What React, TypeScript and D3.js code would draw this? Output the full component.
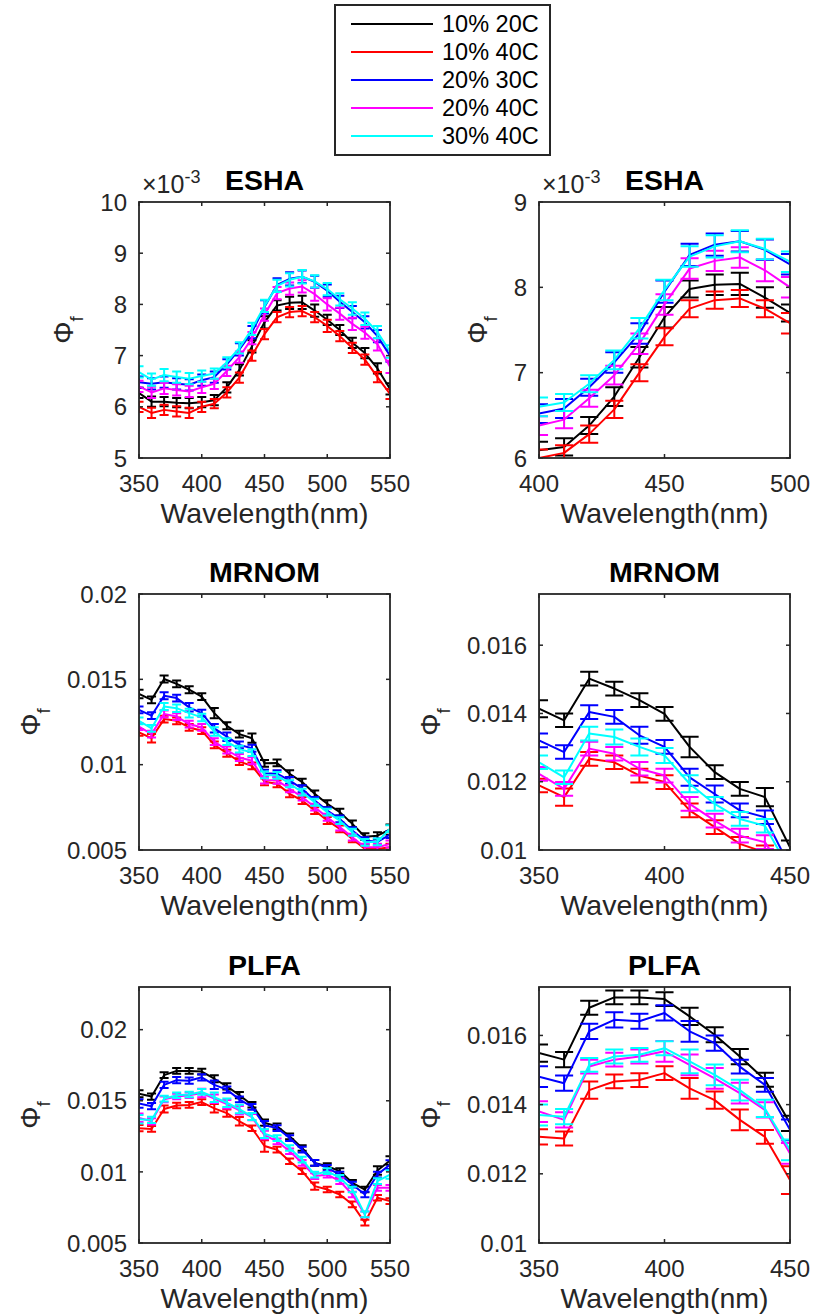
import React from 'react';
import * as d3 from 'd3';

const wavelengths = [350, 360, 370, 380, 390, 400, 410, 420, 430, 440, 450, 460, 470, 480, 490, 500, 510, 520, 530, 540, 550];
const seriesNames = ['10% 20C', '10% 40C', '20% 30C', '20% 40C', '30% 40C'];
const seriesColors = ['#000000', '#ff0000', '#0000ff', '#ff00ff', '#00ffff'];

// ESHA values in units of 1e-3
const eshaValues = [
  [6.27, 6.10, 6.10, 6.08, 6.07, 6.09, 6.13, 6.38, 6.72, 7.18, 7.65, 7.98, 8.03, 8.04, 7.88, 7.70, 7.50, 7.25, 7.05, 6.75, 6.35],
  [6.00, 5.88, 5.94, 5.91, 5.88, 6.00, 6.06, 6.28, 6.57, 7.00, 7.42, 7.75, 7.85, 7.87, 7.75, 7.58, 7.38, 7.15, 6.92, 6.58, 6.25],
  [6.48, 6.45, 6.48, 6.45, 6.43, 6.52, 6.58, 6.83, 7.12, 7.46, 7.95, 8.38, 8.50, 8.54, 8.44, 8.27, 8.05, 7.85, 7.65, 7.38, 7.00],
  [6.40, 6.28, 6.36, 6.33, 6.30, 6.38, 6.45, 6.70, 6.97, 7.34, 7.80, 8.22, 8.31, 8.35, 8.20, 8.00, 7.82, 7.62, 7.45, 7.22, 6.78],
  [6.68, 6.53, 6.62, 6.58, 6.55, 6.60, 6.65, 6.87, 7.15, 7.52, 7.97, 8.36, 8.48, 8.54, 8.45, 8.30, 8.10, 7.92, 7.72, 7.46, 7.08],
];
const eshaErrors = [
  [0.10, 0.10, 0.09, 0.09, 0.10, 0.10, 0.10, 0.10, 0.11, 0.12, 0.12, 0.10, 0.12, 0.13, 0.12, 0.10, 0.10, 0.10, 0.10, 0.10, 0.11],
  [0.10, 0.10, 0.10, 0.10, 0.10, 0.10, 0.09, 0.10, 0.10, 0.10, 0.10, 0.10, 0.10, 0.10, 0.10, 0.12, 0.10, 0.10, 0.10, 0.10, 0.10],
  [0.11, 0.11, 0.11, 0.11, 0.11, 0.11, 0.11, 0.10, 0.12, 0.12, 0.13, 0.13, 0.13, 0.12, 0.12, 0.12, 0.12, 0.12, 0.12, 0.12, 0.12],
  [0.11, 0.11, 0.11, 0.11, 0.11, 0.11, 0.10, 0.10, 0.11, 0.12, 0.12, 0.12, 0.12, 0.12, 0.13, 0.12, 0.12, 0.12, 0.12, 0.12, 0.12],
  [0.11, 0.12, 0.12, 0.11, 0.11, 0.11, 0.10, 0.10, 0.11, 0.12, 0.12, 0.12, 0.13, 0.13, 0.12, 0.12, 0.12, 0.12, 0.12, 0.12, 0.12],
];

const mrnomValues = [
  [0.01414, 0.0138, 0.01502, 0.01473, 0.01439, 0.01399, 0.01302, 0.01228, 0.01179, 0.01155, 0.01008, 0.0101, 0.00947, 0.00898, 0.00829, 0.00771, 0.00722, 0.00653, 0.00578, 0.00584, 0.0062],
  [0.01189, 0.01155, 0.01267, 0.01257, 0.01218, 0.01199, 0.01116, 0.01067, 0.01018, 0.00993, 0.009, 0.00888, 0.00829, 0.0079, 0.00731, 0.00673, 0.00624, 0.00565, 0.00506, 0.00506, 0.00516],
  [0.01321, 0.01287, 0.01404, 0.0139, 0.01336, 0.01302, 0.01213, 0.01164, 0.01116, 0.01096, 0.0095, 0.00947, 0.00908, 0.00859, 0.0079, 0.00731, 0.00682, 0.00614, 0.00555, 0.00548, 0.0059],
  [0.01223, 0.01179, 0.01297, 0.01282, 0.01238, 0.01218, 0.01135, 0.01086, 0.01042, 0.01023, 0.0091, 0.00908, 0.00859, 0.0081, 0.00751, 0.00692, 0.00634, 0.00575, 0.00516, 0.00516, 0.00535],
  [0.01257, 0.01213, 0.01341, 0.01331, 0.01302, 0.01277, 0.01194, 0.01135, 0.01091, 0.01071, 0.0094, 0.00937, 0.00888, 0.00839, 0.0078, 0.00722, 0.00672, 0.00604, 0.00545, 0.00548, 0.00625],
];
const mrnomErrors = [
  [0.00025, 0.0002, 0.0002, 0.0002, 0.0002, 0.0002, 0.0003, 0.0002, 0.0002, 0.00027, 0.0002, 0.0002, 0.0002, 0.0002, 0.0002, 0.0002, 0.0002, 0.0002, 0.0002, 0.0002, 0.0003],
  [0.0002, 0.00025, 0.0002, 0.0002, 0.0002, 0.0002, 0.0002, 0.0002, 0.0002, 0.0002, 0.0002, 0.0002, 0.0002, 0.0002, 0.0002, 0.0002, 0.0002, 0.0002, 0.0002, 0.0002, 0.0002],
  [0.0002, 0.0002, 0.0002, 0.0002, 0.00025, 0.0002, 0.00025, 0.00025, 0.0002, 0.0002, 0.0002, 0.0002, 0.0002, 0.0002, 0.0002, 0.0002, 0.0002, 0.0002, 0.0002, 0.0002, 0.0002],
  [0.0002, 0.0002, 0.0002, 0.0002, 0.0002, 0.0002, 0.0002, 0.0002, 0.0002, 0.0002, 0.0002, 0.0002, 0.0002, 0.0002, 0.0002, 0.0002, 0.0002, 0.0002, 0.0002, 0.0002, 0.0002],
  [0.0002, 0.0002, 0.0002, 0.00022, 0.00025, 0.00022, 0.00025, 0.0002, 0.0002, 0.0002, 0.0002, 0.0002, 0.0002, 0.0002, 0.0002, 0.0002, 0.0002, 0.0002, 0.0002, 0.0002, 0.0002],
];

const plfaValues = [
  [0.01549, 0.0153, 0.0168, 0.0171, 0.0171, 0.01705, 0.01655, 0.01602, 0.01539, 0.01472, 0.01346, 0.0132, 0.0125, 0.01168, 0.01063, 0.0104, 0.01005, 0.00923, 0.00876, 0.0101, 0.0108],
  [0.01307, 0.01302, 0.01442, 0.01467, 0.01471, 0.01491, 0.01447, 0.01413, 0.01356, 0.01307, 0.01182, 0.01156, 0.01075, 0.01005, 0.009, 0.00876, 0.00841, 0.00771, 0.00643, 0.00818, 0.00795],
  [0.01481, 0.01462, 0.01612, 0.01645, 0.01641, 0.01665, 0.01612, 0.01578, 0.0151, 0.01457, 0.01327, 0.01308, 0.01238, 0.01156, 0.01063, 0.01028, 0.00981, 0.00911, 0.00841, 0.00981, 0.01051],
  [0.0138, 0.01356, 0.0151, 0.0153, 0.01539, 0.01554, 0.01515, 0.01476, 0.01433, 0.01385, 0.01259, 0.01215, 0.01145, 0.01063, 0.0097, 0.00981, 0.00935, 0.00841, 0.00701, 0.00888, 0.00888],
  [0.0137, 0.01365, 0.01515, 0.01539, 0.01544, 0.01563, 0.01525, 0.01486, 0.01442, 0.01389, 0.01269, 0.01238, 0.01168, 0.01086, 0.00981, 0.01005, 0.00958, 0.00876, 0.00701, 0.00935, 0.00981],
];
const plfaErrors = [
  [0.00025, 0.00022, 0.0002, 0.0002, 0.0002, 0.0002, 0.00025, 0.00022, 0.00022, 0.0002, 0.00022, 0.0002, 0.0002, 0.0002, 0.0002, 0.0002, 0.0002, 0.0002, 0.0002, 0.0003, 0.0003],
  [0.00022, 0.0002, 0.00025, 0.0002, 0.0002, 0.0002, 0.0003, 0.00025, 0.0003, 0.0002, 0.0004, 0.0002, 0.0002, 0.0002, 0.00025, 0.0002, 0.0002, 0.0002, 0.0002, 0.0002, 0.0002],
  [0.0003, 0.00022, 0.00022, 0.00022, 0.00022, 0.00022, 0.0003, 0.00022, 0.0002, 0.0002, 0.0003, 0.0002, 0.0002, 0.0002, 0.0002, 0.0002, 0.0002, 0.0002, 0.0002, 0.0002, 0.0003],
  [0.0003, 0.00022, 0.0002, 0.0002, 0.0002, 0.0003, 0.0003, 0.0003, 0.0003, 0.00022, 0.0003, 0.0002, 0.0002, 0.0002, 0.0002, 0.0002, 0.0002, 0.0002, 0.0002, 0.0002, 0.0002],
  [0.0003, 0.00022, 0.0002, 0.0002, 0.0002, 0.0002, 0.00034, 0.0003, 0.0003, 0.00025, 0.0003, 0.0002, 0.0002, 0.0002, 0.0002, 0.0002, 0.0002, 0.0002, 0.0002, 0.0002, 0.0003],
];

const FONT = '"Liberation Sans", Arial, Helvetica, sans-serif';
const AXIS = '#262626';
const CAP = 3.6; // cap half-width in nm

type PanelDef = {
  id: string;
  title: string;
  values: number[][];
  errors: number[][];
  xDomain: [number, number];
  xTicks: number[];
  yDomain: [number, number];
  yTicks: number[];
  exponent: boolean;
  left: number;
  top: number;
};

const W = 251;
const H = 256;

const panels: PanelDef[] = [
  { id: 'p1', title: 'ESHA', values: eshaValues, errors: eshaErrors, xDomain: [350, 550], xTicks: [350, 400, 450, 500, 550], yDomain: [5, 10], yTicks: [5, 6, 7, 8, 9, 10], exponent: true, left: 139, top: 202 },
  { id: 'p2', title: 'ESHA', values: eshaValues, errors: eshaErrors, xDomain: [400, 500], xTicks: [400, 450, 500], yDomain: [6, 9], yTicks: [6, 7, 8, 9], exponent: true, left: 539, top: 202 },
  { id: 'p3', title: 'MRNOM', values: mrnomValues, errors: mrnomErrors, xDomain: [350, 550], xTicks: [350, 400, 450, 500, 550], yDomain: [0.005, 0.02], yTicks: [0.005, 0.01, 0.015, 0.02], exponent: false, left: 139, top: 594 },
  { id: 'p4', title: 'MRNOM', values: mrnomValues, errors: mrnomErrors, xDomain: [350, 450], xTicks: [350, 400, 450], yDomain: [0.01, 0.0175], yTicks: [0.01, 0.012, 0.014, 0.016], exponent: false, left: 539, top: 594 },
  { id: 'p5', title: 'PLFA', values: plfaValues, errors: plfaErrors, xDomain: [350, 550], xTicks: [350, 400, 450, 500, 550], yDomain: [0.005, 0.023], yTicks: [0.005, 0.01, 0.015, 0.02], exponent: false, left: 139, top: 987 },
  { id: 'p6', title: 'PLFA', values: plfaValues, errors: plfaErrors, xDomain: [350, 450], xTicks: [350, 400, 450], yDomain: [0.01, 0.0174], yTicks: [0.01, 0.012, 0.014, 0.016], exponent: false, left: 539, top: 987 },
];

function labelWidth(s: string, size: number) {
  let w = 0;
  for (const ch of s) w += ch === '.' ? 0.278 : 0.556;
  return w * size;
}

function Panel({ p }: { p: PanelDef }) {
  const x = d3.scaleLinear().domain(p.xDomain).range([p.left, p.left + W]);
  const y = d3.scaleLinear().domain(p.yDomain).range([p.top + H, p.top]);
  const line = d3.line<number>().x((_, i) => x(wavelengths[i])).y((v) => y(v));
  const tickFont = 24;
  const tickLen = 4;
  const bottom = p.top + H;
  const right = p.left + W;
  const maxLab = Math.max(...p.yTicks.map((t) => labelWidth(String(t), tickFont)));
  const ylabX = p.left - 12 - maxLab - 27;
  const cy = p.top + H / 2;
  const cx = p.left + W / 2;

  return (
    <g>
      <defs>
        <clipPath id={`clip-${p.id}`}>
          <rect x={p.left} y={p.top} width={W} height={H} />
        </clipPath>
      </defs>
      <g clipPath={`url(#clip-${p.id})`}>
        {p.values.map((vals, si) => {
          const errs = p.errors[si];
          let bars = '';
          vals.forEach((v, i) => {
            const w = wavelengths[i];
            const e = errs[i];
            const xx = x(w);
            const y0 = y(v - e);
            const y1 = y(v + e);
            bars += `M${xx},${y0}V${y1}`;
            bars += `M${x(w - CAP)},${y0}H${x(w + CAP)}`;
            bars += `M${x(w - CAP)},${y1}H${x(w + CAP)}`;
          });
          return (
            <g key={si}>
              <path d={bars} fill="none" stroke={seriesColors[si]} strokeWidth={2} />
              <path d={line(vals) || ''} fill="none" stroke={seriesColors[si]} strokeWidth={2} strokeLinejoin="round" />
            </g>
          );
        })}
      </g>
      {p.xTicks.map((t) => (
        <g key={`xt${t}`}>
          <line x1={x(t)} x2={x(t)} y1={bottom} y2={bottom - tickLen} stroke={AXIS} strokeWidth={1.5} />
          <line x1={x(t)} x2={x(t)} y1={p.top} y2={p.top + tickLen} stroke={AXIS} strokeWidth={1.5} />
          <text x={x(t)} y={bottom + 34} textAnchor="middle" fontSize={tickFont} fill={AXIS} fontFamily={FONT}>
            {String(t)}
          </text>
        </g>
      ))}
      {p.yTicks.map((t) => (
        <g key={`yt${t}`}>
          <line x1={p.left} x2={p.left + tickLen} y1={y(t)} y2={y(t)} stroke={AXIS} strokeWidth={1.5} />
          <line x1={right} x2={right - tickLen} y1={y(t)} y2={y(t)} stroke={AXIS} strokeWidth={1.5} />
          <text x={p.left - 12} y={y(t)} dy="0.36em" textAnchor="end" fontSize={tickFont} fill={AXIS} fontFamily={FONT}>
            {String(t)}
          </text>
        </g>
      ))}
      <rect x={p.left} y={p.top} width={W} height={H} fill="none" stroke={AXIS} strokeWidth={1.8} />
      <text x={cx} y={p.top - 12} textAnchor="middle" fontSize={28.5} fontWeight="bold" fill="#000" fontFamily={FONT}>
        {p.title}
      </text>
      {p.exponent && (
        <text x={p.left + 3} y={p.top - 9} fontSize={25} fill={AXIS} fontFamily={FONT}>
          ×10<tspan fontSize={18} dy={-10}>-3</tspan>
        </text>
      )}
      <text x={cx} y={bottom + 65} textAnchor="middle" fontSize={28.5} fill={AXIS} fontFamily={FONT}>
        Wavelength(nm)
      </text>
      <text transform={`translate(${ylabX},${cy}) rotate(-90)`} textAnchor="middle" fontSize={28} fill={AXIS} fontFamily={FONT}>
        Φ<tspan fontSize={19} dy={10}>f</tspan>
      </text>
    </g>
  );
}

function Legend() {
  const bx = 335;
  const by = 5;
  const bw = 215;
  const bh = 150;
  const rowY = (i: number) => 24 + i * 28;
  return (
    <g>
      <rect x={bx} y={by} width={bw} height={bh} fill="#fff" stroke={AXIS} strokeWidth={2} />
      {seriesNames.map((name, i) => (
        <g key={name}>
          <line x1={351} x2={433} y1={rowY(i)} y2={rowY(i)} stroke={seriesColors[i]} strokeWidth={2} />
          <text x={442} y={rowY(i)} dy="0.36em" fontSize={23.5} fill="#000" fontFamily={FONT}>
            {name}
          </text>
        </g>
      ))}
    </g>
  );
}

export default function App() {
  return (
    <svg width={814} height={1316} style={{ position: 'absolute', left: 0, top: 0, background: '#fff' }}>
      <rect x={0} y={0} width={814} height={1316} fill="#fff" />
      {panels.map((p) => (
        <Panel key={p.id} p={p} />
      ))}
      <Legend />
    </svg>
  );
}
